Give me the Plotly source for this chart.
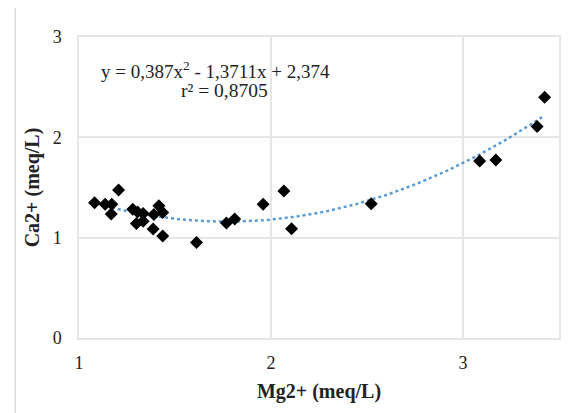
import numpy as np
import plotly.graph_objects as go

mg = [1.081, 1.136, 1.171, 1.168, 1.206, 1.280, 1.305, 1.299, 1.334, 1.334,
      1.390, 1.386, 1.416, 1.436, 1.436, 1.612, 1.768, 1.811, 1.959, 2.067,
      2.107, 2.522, 3.087, 3.171, 3.386, 3.425]
ca = [1.348, 1.332, 1.332, 1.235, 1.474, 1.282, 1.255, 1.142, 1.242, 1.163,
      1.230, 1.086, 1.318, 1.252, 1.016, 0.953, 1.145, 1.185, 1.332, 1.464,
      1.089, 1.338, 1.763, 1.773, 2.109, 2.400]
coef = [0.387, -1.3711, 2.374]
x_ticks = [1, 2, 3]
y_ticks = [0, 1, 2, 3]

xf = np.linspace(min(mg), max(mg), 200)
yf = np.polyval(coef, xf)

font = "Liberation Serif, Times New Roman, serif"
grid = "#e6e6e6"

fig = go.Figure()
fig.add_trace(go.Scatter(x=xf, y=yf, mode="lines",
                         line=dict(color="#5b9bd5", width=2.5, dash="dot"),
                         hoverinfo="skip", showlegend=False))
fig.add_trace(go.Scatter(x=mg, y=ca, mode="markers",
                         marker=dict(symbol="diamond", size=10, color="black"),
                         showlegend=False))

fig.update_layout(
    width=578, height=405,
    margin=dict(l=70.5, r=27, t=29, b=75, autoexpand=False),
    paper_bgcolor="white", plot_bgcolor="white",
    font=dict(family=font, size=18, color="#222"),
    xaxis=dict(range=[1, 3.5], tickvals=x_ticks, showgrid=True, gridcolor=grid,
               gridwidth=1.5, zeroline=False, showline=True, linecolor=grid,
               linewidth=1.5, mirror=True, ticks="", ticklabelstandoff=8,
               tickfont=dict(size=18),
               title=dict(text="<b>Mg2+ (meq/L)</b>", font=dict(size=20), standoff=12)),
    yaxis=dict(range=[0, 3], tickvals=y_ticks, showgrid=True, gridcolor=grid,
               gridwidth=1.5, zeroline=False, showline=True, linecolor=grid,
               linewidth=1.5, mirror=True, ticks="", ticklabelstandoff=12,
               tickfont=dict(size=18),
               title=dict(text="<b>Ca2+ (meq/L)</b>", font=dict(size=20), standoff=8)),
    shapes=[dict(type="rect", xref="paper", yref="paper",
                 x0=-0.133, x1=1.2, y0=-0.5, y1=1.106,
                 line=dict(color="#d9d9d9", width=1.5))],
    annotations=[
        dict(xref="paper", yref="paper", x=(215 - 78.5) / 480.5, y=(338 - 70) / 301,
             xanchor="center", yanchor="middle", showarrow=False,
             text="y = 0,387x<sup>2</sup> - 1,3711x + 2,374", font=dict(size=19)),
        dict(xref="paper", yref="paper", x=(224 - 78.5) / 480.5, y=(338 - 91) / 301,
             xanchor="center", yanchor="middle", showarrow=False,
             text="r² = 0,8705", font=dict(size=19.5)),
    ],
)
fig.write_html("out.html")
